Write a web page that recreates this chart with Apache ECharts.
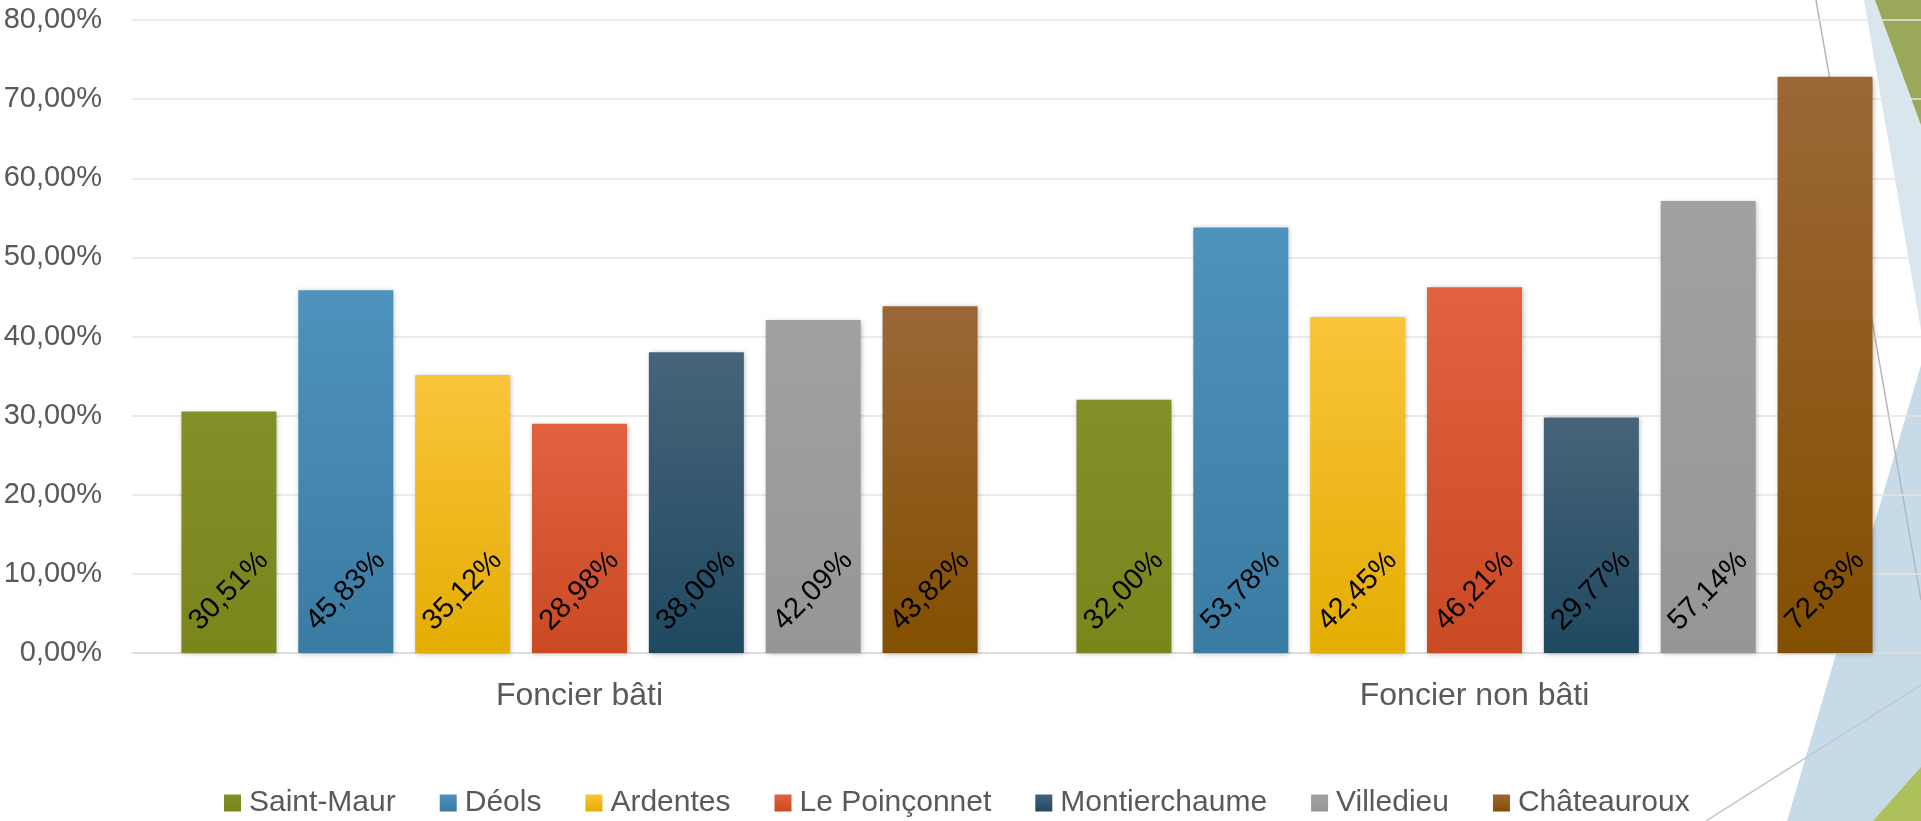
<!DOCTYPE html>
<html>
<head>
<meta charset="utf-8">
<script src="https://cdn.jsdelivr.net/npm/echarts@6/dist/echarts.min.js"></script>
<style>
  html, body { margin: 0; padding: 0; background: #ffffff; }
  #chart { width: 1921px; height: 821px; }
</style>
</head>
<body>
<div id="chart"></div>
<script>
// Taux d'imposition par commune (en %)
const categories = ['Foncier bâti', 'Foncier non bâti'];
const communes = ['Saint-Maur', 'Déols', 'Ardentes', 'Le Poinçonnet', 'Montierchaume', 'Villedieu', 'Châteauroux'];
const saintMaur = [30.51, 32.00];
const deols = [45.83, 53.78];
const ardentes = [35.12, 42.45];
const lePoinconnet = [28.98, 46.21];
const montierchaume = [38.00, 29.77];
const villedieu = [42.09, 57.14];
const chateauroux = [43.82, 72.83];
const yTicks = { min: 0, max: 80, step: 10 };

const seriesValues = [saintMaur, deols, ardentes, lePoinconnet, montierchaume, villedieu, chateauroux];

// couleurs : haut / bas du dégradé de chaque barre
const palette = [
  ['#838f27', '#7a861c'],
  ['#4e93bd', '#3a7ba2'],
  ['#fac43b', '#e4ad02'],
  ['#e2613f', '#ca4a24'],
  ['#476479', '#1f4961'],
  ['#a1a1a1', '#969696'],
  ['#9b6737', '#834f00']
];

const FONT = '"Liberation Sans", Arial, sans-serif';
const fmt = v => v.toFixed(2).replace('.', ',') + '%';

const chart = echarts.init(document.getElementById('chart'), null, { renderer: 'canvas' });

const series = communes.map((name, i) => ({
  name: name,
  type: 'bar',
  data: seriesValues[i],
  barWidth: 95,
  barGap: '23%',
  itemStyle: {
    color: new echarts.graphic.LinearGradient(0, 0, 0, 1, [
      { offset: 0, color: palette[i][0] },
      { offset: 1, color: palette[i][1] }
    ]),
    shadowColor: 'rgba(0,0,0,0.28)',
    shadowBlur: 5,
    shadowOffsetX: 1,
    shadowOffsetY: 1
  },
  label: {
    show: true,
    position: 'insideBottom',
    distance: 62,
    rotate: 45,
    align: 'center',
    verticalAlign: 'middle',
    color: '#000000',
    fontFamily: FONT,
    fontSize: 29,
    formatter: p => fmt(p.value)
  }
}));

chart.setOption({
  animation: false,
  backgroundColor: '#ffffff',
  graphic: [
    // décor de fond, à droite
    { type: 'polygon', z: -20, silent: true, shape: { points: [[1864, 0], [1921, 0], [1921, 330]] }, style: { fill: '#d9e6ee' } },
    { type: 'polygon', z: -19, silent: true, shape: { points: [[1875, 0], [1921, 0], [1921, 125]] }, style: { fill: '#9aa85a' } },
    { type: 'polygon', z: -20, silent: true, shape: { points: [[1921, 365], [1921, 821], [1787, 821]] }, style: { fill: '#c6dbe7' } },
    { type: 'polygon', z: -19, silent: true, shape: { points: [[1873, 821], [1921, 767], [1921, 821]] }, style: { fill: '#aec05c' } },
    { type: 'line', z: -18, silent: true, shape: { x1: 1816, y1: 0, x2: 1921, y2: 600 }, style: { stroke: '#b4b8bb', lineWidth: 1.5 } },
    { type: 'line', z: -18, silent: true, shape: { x1: 1706, y1: 821, x2: 1921, y2: 685 }, style: { stroke: '#c4cacd', lineWidth: 1.5 } }
  ],
  grid: { left: 132, top: 20, width: 1790, height: 633, containLabel: false, outerBoundsMode: 'none' },
  legend: {
    data: communes,
    left: 219,
    top: 781,
    icon: 'rect',
    itemWidth: 17,
    itemHeight: 17,
    itemGap: 44,
    textStyle: { fontFamily: FONT, fontSize: 30, color: '#595959', lineHeight: 34, padding: [0, 0, 0, 3] }
  },
  xAxis: {
    type: 'category',
    data: categories,
    axisTick: { show: false },
    axisLine: { show: true, lineStyle: { color: '#d9d9d9', width: 1.5 } },
    axisLabel: { fontFamily: FONT, fontSize: 32, color: '#595959', margin: 27 }
  },
  yAxis: {
    type: 'value',
    min: yTicks.min,
    max: yTicks.max,
    interval: yTicks.step,
    axisLine: { show: false },
    axisTick: { show: false },
    splitLine: { lineStyle: { color: '#e4e4e4', width: 1.5 } },
    axisLabel: { fontFamily: FONT, fontSize: 29, color: '#595959', margin: 30, formatter: v => fmt(v) }
  },
  series: series
});
</script>
</body>
</html>
